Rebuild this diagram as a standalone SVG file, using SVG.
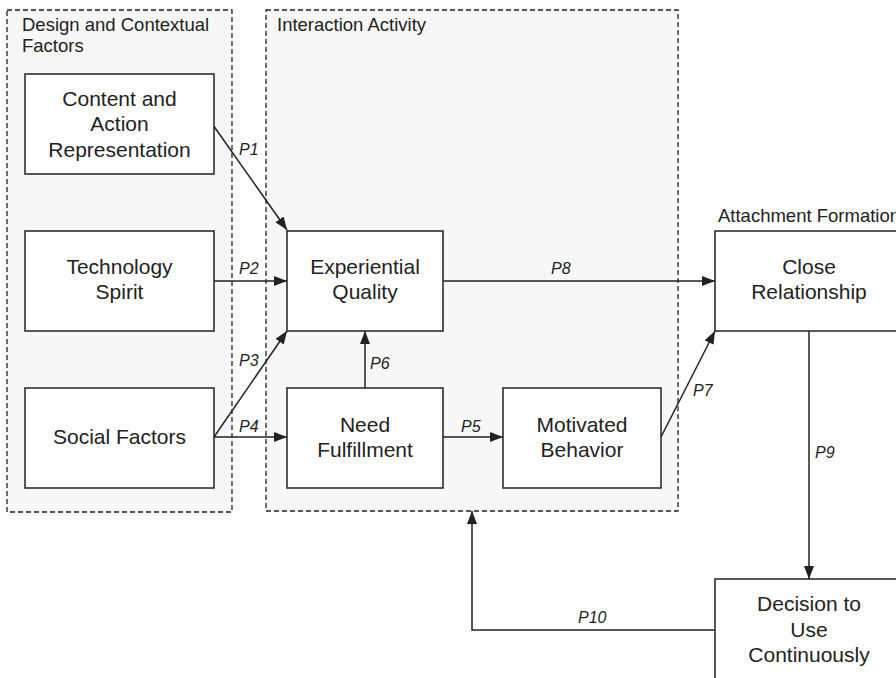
<svg xmlns="http://www.w3.org/2000/svg" width="896" height="678" viewBox="0 0 896 678">
<style>
.grp{fill:#f7f7f7;stroke:#222;stroke-width:1.3;stroke-dasharray:5,3}
.nd{fill:#fff;stroke:#222;stroke-width:1.5}
.t{font-family:"Liberation Sans",Arial,sans-serif;font-size:21px;fill:#222;text-anchor:middle}
.gt{font-family:"Liberation Sans",Arial,sans-serif;font-size:18.5px;fill:#222}
.pl{font-family:"Liberation Sans",Arial,sans-serif;font-size:16px;font-style:italic;fill:#222}
.c{fill:none;stroke:#222;stroke-width:1.5}
</style>
<defs>
<marker id="ah" markerUnits="userSpaceOnUse" markerWidth="14" markerHeight="11" refX="13" refY="5" orient="auto">
<path d="M0,0 L13,5 L0,10 z" fill="#222"/>
</marker>
</defs>
<g id="group-design">
<rect class="grp" x="7" y="10" width="225" height="502"/>
<text class="gt" x="22" y="31">Design and Contextual</text>
<text class="gt" x="22" y="52">Factors</text>
</g>
<g id="group-interaction">
<rect class="grp" x="266" y="10" width="412" height="501"/>
<text class="gt" x="277" y="31">Interaction Activity</text>
</g>
<g id="group-attachment">
<text class="gt" x="718" y="222">Attachment Formation</text>
</g>
<g id="connectors">
<line class="c" x1="213" y1="125" x2="287" y2="230" marker-end="url(#ah)"/>
<line class="c" x1="214" y1="281" x2="287" y2="281" marker-end="url(#ah)"/>
<line class="c" x1="214" y1="437" x2="287" y2="331" marker-end="url(#ah)"/>
<line class="c" x1="214" y1="437" x2="287" y2="437" marker-end="url(#ah)"/>
<line class="c" x1="443" y1="437" x2="503" y2="437" marker-end="url(#ah)"/>
<line class="c" x1="365" y1="388" x2="365" y2="331" marker-end="url(#ah)"/>
<line class="c" x1="661" y1="437" x2="715" y2="331" marker-end="url(#ah)"/>
<line class="c" x1="443" y1="281" x2="715" y2="281" marker-end="url(#ah)"/>
<line class="c" x1="809" y1="331" x2="809" y2="579" marker-end="url(#ah)"/>
<polyline class="c" points="715,630 472,630 472,511" marker-end="url(#ah)"/>
<text class="pl" x="239" y="155">P1</text>
<text class="pl" x="239" y="274">P2</text>
<text class="pl" x="239" y="366">P3</text>
<text class="pl" x="239" y="432">P4</text>
<text class="pl" x="461" y="432">P5</text>
<text class="pl" x="370" y="369">P6</text>
<text class="pl" x="693" y="396">P7</text>
<text class="pl" x="551" y="274">P8</text>
<text class="pl" x="815" y="458">P9</text>
<text class="pl" x="578" y="623">P10</text>
</g>
<g id="content-action">
<rect class="nd" x="25" y="74" width="189" height="100"/>
<text class="t" x="119.5" y="106">Content and</text>
<text class="t" x="119.5" y="131">Action</text>
<text class="t" x="119.5" y="157">Representation</text>
</g>
<g id="technology-spirit">
<rect class="nd" x="25" y="231" width="189" height="100"/>
<text class="t" x="119.5" y="274">Technology</text>
<text class="t" x="119.5" y="299">Spirit</text>
</g>
<g id="social-factors">
<rect class="nd" x="25" y="388" width="189" height="100"/>
<text class="t" x="119.5" y="444">Social Factors</text>
</g>
<g id="experiential-quality">
<rect class="nd" x="287" y="231" width="156" height="100"/>
<text class="t" x="365" y="274">Experiential</text>
<text class="t" x="365" y="299">Quality</text>
</g>
<g id="need-fulfillment">
<rect class="nd" x="287" y="388" width="156" height="100"/>
<text class="t" x="365" y="432">Need</text>
<text class="t" x="365" y="457">Fulfillment</text>
</g>
<g id="motivated-behavior">
<rect class="nd" x="503" y="388" width="158" height="100"/>
<text class="t" x="582" y="432">Motivated</text>
<text class="t" x="582" y="457">Behavior</text>
</g>
<g id="close-relationship">
<rect class="nd" x="715" y="231" width="189" height="100"/>
<text class="t" x="809" y="274">Close</text>
<text class="t" x="809" y="299">Relationship</text>
</g>
<g id="decision">
<rect class="nd" x="715" y="579" width="189" height="104"/>
<text class="t" x="809" y="611">Decision to</text>
<text class="t" x="809" y="637">Use</text>
<text class="t" x="809" y="662">Continuously</text>
</g>
</svg>
